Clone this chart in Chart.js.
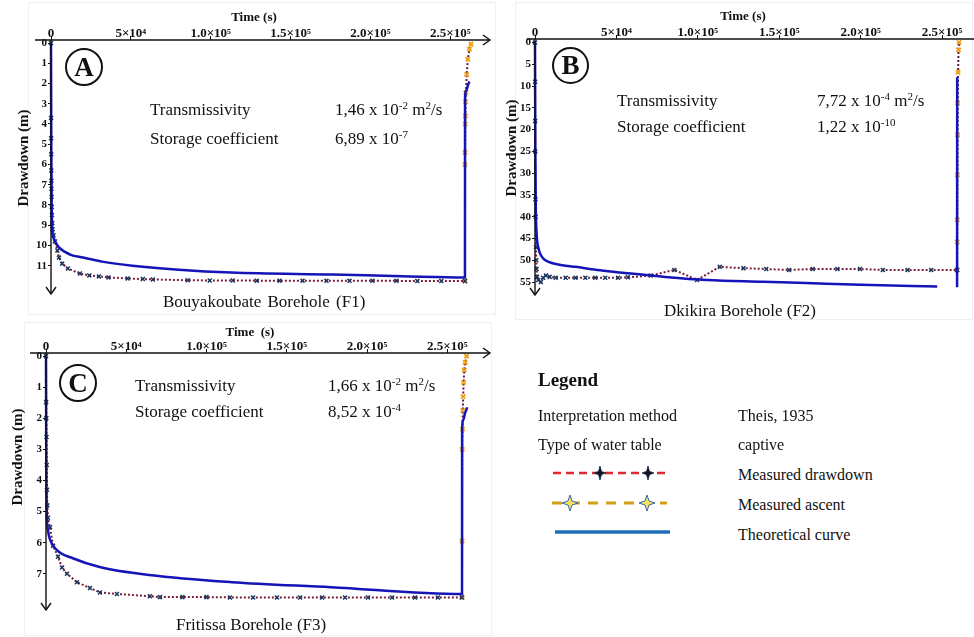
<!DOCTYPE html>
<html>
<head>
<meta charset="utf-8">
<script src="https://cdn.jsdelivr.net/npm/chart.js@4.4.1/dist/chart.umd.min.js"></script>
<style>
  body { margin: 0; background: #fff; }
  #page { position: relative; width: 974px; height: 637px; overflow: hidden; background: #fff;
          font-family: "Liberation Serif", "Times New Roman", serif; color: #111; }
  canvas { position: absolute; }
  .box { position: absolute; border: 1px solid #f0f0f0; }
  .t { position: absolute; white-space: pre; font-size: 17px; line-height: 20px; }
  .lg { position: absolute; white-space: pre; font-size: 16px; line-height: 20px; }
  .ttl { position: absolute; white-space: pre; font-size: 13px; font-weight: bold; line-height: 16px; transform: translateX(-50%); }
  .ytl { position: absolute; white-space: pre; font-size: 15px; font-weight: bold; line-height: 16px;
         transform: translate(-50%, -50%) rotate(-90deg); }
  .circ { position: absolute; border: 2px solid #111; border-radius: 50%; font-weight: bold; font-size: 27px;
          text-align: center; box-sizing: border-box; }
  sup { font-size: 11px; vertical-align: 6px; line-height: 0; }
</style>
</head>
<body>
<div id="page">
  <div class="box" style="left:28px;top:2px;width:466px;height:311px"></div>
  <div class="box" style="left:515px;top:2px;width:456px;height:316px"></div>
  <div class="box" style="left:24px;top:322px;width:466px;height:312px"></div>

  <canvas id="chartA" width="500" height="310" style="left:0;top:0"></canvas>
  <canvas id="chartB" width="464" height="318" style="left:510px;top:0"></canvas>
  <canvas id="chartC" width="500" height="319" style="left:0;top:318px"></canvas>

  <!-- Panel A texts -->
  <div class="ttl" style="left:254px;top:9px">Time (s)</div>
  <div class="ytl" style="left:23px;top:158px">Drawdown (m)</div>
  <div class="circ" style="left:65px;top:48px;width:38px;height:38px;line-height:34px">A</div>
  <div class="t" style="left:150px;top:100px">Transmissivity</div>
  <div class="t" style="left:335px;top:100px">1,46 x 10<sup>-2</sup> m<sup>2</sup>/s</div>
  <div class="t" style="left:150px;top:129px">Storage coefficient</div>
  <div class="t" style="left:335px;top:129px">6,89 x 10<sup>-7</sup></div>
  <div class="t" style="left:163px;top:292px;word-spacing:2px">Bouyakoubate Borehole (F1)</div>

  <!-- Panel B texts -->
  <div class="ttl" style="left:743px;top:8px">Time (s)</div>
  <div class="ytl" style="left:511px;top:148px">Drawdown (m)</div>
  <div class="circ" style="left:552px;top:47px;width:37px;height:37px;line-height:33px">B</div>
  <div class="t" style="left:617px;top:91px">Transmissivity</div>
  <div class="t" style="left:817px;top:91px">7,72 x 10<sup>-4</sup> m<sup>2</sup>/s</div>
  <div class="t" style="left:617px;top:117px">Storage coefficient</div>
  <div class="t" style="left:817px;top:117px">1,22 x 10<sup>-10</sup></div>
  <div class="t" style="left:664px;top:301px">Dkikira Borehole (F2)</div>

  <!-- Panel C texts -->
  <div class="ttl" style="left:250px;top:324px">Time  (s)</div>
  <div class="ytl" style="left:17px;top:457px">Drawdown (m)</div>
  <div class="circ" style="left:59px;top:364px;width:38px;height:38px;line-height:34px">C</div>
  <div class="t" style="left:135px;top:376px">Transmissivity</div>
  <div class="t" style="left:328px;top:376px">1,66 x 10<sup>-2</sup> m<sup>2</sup>/s</div>
  <div class="t" style="left:135px;top:402px">Storage coefficient</div>
  <div class="t" style="left:328px;top:402px">8,52 x 10<sup>-4</sup></div>
  <div class="t" style="left:176px;top:615px">Fritissa Borehole (F3)</div>

  <!-- Legend -->
  <div class="lg" style="left:538px;top:369px;font-size:19px;font-weight:bold;line-height:22px">Legend</div>
  <div class="lg" style="left:538px;top:406px">Interpretation method</div>
  <div class="lg" style="left:738px;top:406px">Theis, 1935</div>
  <div class="lg" style="left:538px;top:435px">Type of water table</div>
  <div class="lg" style="left:738px;top:435px">captive</div>
  <div class="lg" style="left:738px;top:465px">Measured drawdown</div>
  <div class="lg" style="left:738px;top:495px">Measured ascent</div>
  <div class="lg" style="left:738px;top:525px">Theoretical curve</div>
  <svg style="position:absolute;left:540px;top:455px" width="150" height="90">
    <line x1="13" y1="18" x2="127" y2="18" stroke="#e0262e" stroke-width="2.5" stroke-dasharray="8 5"/>
    <path d="M60,11 L61.5,16.5 L66,18 L61.5,19.5 L60,25 L58.5,19.5 L54,18 L58.5,16.5 Z" fill="#111" stroke="#1a2a55" stroke-width="0.8"/>
    <path d="M108,11 L109.5,16.5 L114,18 L109.5,19.5 L108,25 L106.5,19.5 L102,18 L106.5,16.5 Z" fill="#111" stroke="#1a2a55" stroke-width="0.8"/>
    <line x1="12" y1="48" x2="127" y2="48" stroke="#d4a017" stroke-width="3" stroke-dasharray="10 8"/>
    <path d="M30,40 L32,46 L38,48 L32,50 L30,56 L28,50 L22,48 L28,46 Z" fill="#f6e35a" stroke="#3a6ab0" stroke-width="1"/>
    <path d="M107,40 L109,46 L115,48 L109,50 L107,56 L105,50 L99,48 L105,46 Z" fill="#f6e35a" stroke="#3a6ab0" stroke-width="1"/>
    <line x1="15" y1="77" x2="130" y2="77" stroke="#1f6fb8" stroke-width="3.5"/>
  </svg>
</div>

<script>
// x axis (time, s) ticks shared by the three panels
const xTickValues = [0, 50000, 100000, 150000, 200000, 250000];
const xTickLabels = ["0", "5×10⁴", "1.0×10⁵", "1.5×10⁵", "2.0×10⁵", "2.5×10⁵"];

const yTicksA = [0, 1, 2, 3, 4, 5, 6, 7, 8, 9, 10, 11];
const yTicksB = [0, 5, 10, 15, 20, 25, 30, 35, 40, 45, 50, 55];
const yTicksC = [0, 1, 2, 3, 4, 5, 6, 7];

// Panel A - Bouyakoubate (F1)
const tTheoA = [0, 150, 400, 800, 1500, 2500, 5000, 12000, 20000, 32000, 51000, 80000, 113000, 176000, 220000, 259200, 259260, 260000, 261000, 262000];
const sTheoA = [0, 5, 8, 9.2, 9.6, 9.8, 10.1, 10.45, 10.6, 10.8, 11.0, 11.2, 11.34, 11.44, 11.52, 11.58, 2.7, 2.35, 2.1, 1.9];
const tDrawA = [0, 60, 100, 150, 200, 250, 300, 400, 500, 600, 800, 1000, 1600, 2500, 4000, 5000, 7000, 10600, 18100, 24000, 30000, 36000, 48000,
                57500, 63800, 85600, 99400, 113800, 128800, 143100, 157500, 172500, 186900, 201300, 216300, 229400, 244400, 259200];
const sDrawA = [0, 3.7, 4.7, 5.5, 6.3, 6.8, 7.2, 7.6, 8.1, 8.5, 8.9, 9.2, 9.5, 9.8, 10.25, 10.6, 10.9, 11.14, 11.39, 11.48, 11.53, 11.58, 11.63,
                11.66, 11.68, 11.72, 11.73, 11.73, 11.74, 11.74, 11.74, 11.75, 11.75, 11.75, 11.75, 11.76, 11.76, 11.76];
const tAscA = [259200, 259250, 259300, 259400, 259500, 259600, 259800, 260300, 261000, 262000, 263000];
const sAscA = [11.76, 6.0, 5.4, 4.0, 3.6, 2.9, 2.45, 1.55, 0.8, 0.3, 0.05];

// Panel B - Dkikira (F2)
const tTheoB = [0, 200, 500, 1000, 2000, 4250, 8000, 15000, 24900, 40000, 55200, 80000, 105600, 140000, 166300, 200000, 247000, 252000, 259200, 259260];
const sTheoB = [0, 25, 38, 44, 47, 49.2, 50.3, 51.0, 51.5, 52.3, 52.9, 53.8, 54.5, 54.9, 55.2, 55.6, 56.0, null, 56.2, 8];
const tDrawB = [0, 60, 120, 200, 300, 400, 600, 800, 1000, 1200, 2000, 3600, 5000, 6700, 9000, 12700, 18800, 24900, 30900, 37000, 43100,
                51000, 57000, 71000, 85600, 99500, 113500, 128000, 142000, 156000, 170500, 185700, 199600, 213600, 228800, 243300, 259200];
const sDrawB = [0, 9, 18, 25, 36, 40, 47, 50, 52, 53.8, 54.5, 55, 54, 53.5, 53.8, 54, 54, 54, 54, 54, 54,
                54, 53.9, 53.5, 52.2, 54.5, 51.5, 51.8, 52, 52.2, 52, 52, 52, 52.2, 52.2, 52.2, 52.2];
const tAscB = [259200, 259260, 259320, 259400, 259500, 259600, 259800, 260100, 260400];
const sAscB = [52.2, 45.8, 40.7, 30.4, 21.2, 13.9, 6.8, 1.7, 0];

// Panel C - Fritissa (F3)
const tTheoC = [0, 100, 300, 600, 1200, 2500, 6800, 16700, 33400, 64400, 115700, 177600, 259200, 259260, 260000, 261000, 262500];
const sTheoC = [0, 2.5, 4.3, 5.27, 5.6, 5.9, 6.24, 6.5, 6.78, 7.04, 7.27, 7.43, 7.65, 2.35, 2.05, 1.85, 1.65];
const tDrawC = [0, 100, 200, 300, 450, 600, 800, 1200, 2500, 4400, 7500, 10000, 13100, 19300, 27400, 33600, 44200, 64800, 71000,
                85000, 100000, 114600, 129000, 143900, 158300, 172000, 186300, 200600, 215600, 229900, 244200, 259200];
const sDrawC = [0, 1.48, 2.0, 2.6, 3.5, 4.3, 4.8, 5.2, 5.5, 6.1, 6.45, 6.8, 7.0, 7.27, 7.46, 7.6, 7.65, 7.72, 7.75,
                7.75, 7.75, 7.76, 7.76, 7.76, 7.76, 7.76, 7.76, 7.76, 7.76, 7.76, 7.76, 7.76];
const tAscC = [259200, 259250, 259350, 259500, 259700, 259900, 260200, 260600, 261200, 262000];
const sAscC = [7.76, 5.95, 3.0, 2.35, 1.75, 1.3, 0.85, 0.45, 0.2, 0.0];

const pts = (t, s) => t.map((v, i) => ({ x: v, y: s[i] }));

// draws the axis lines with open arrow heads
const axisArrows = {
  id: "axisArrows",
  afterDraw(chart, args, o) {
    const { ctx, chartArea: a } = chart;
    ctx.save();
    ctx.strokeStyle = "#111";
    ctx.lineWidth = 1.4;
    ctx.beginPath();
    ctx.moveTo(o.xStart, a.top);
    ctx.lineTo(o.xEnd, a.top);
    ctx.moveTo(a.left, a.top);
    ctx.lineTo(a.left, o.yEnd);
    ctx.stroke();
    ctx.beginPath();
    if (o.xArrow) {
      ctx.moveTo(o.xEnd - 7, a.top - 5);
      ctx.lineTo(o.xEnd, a.top);
      ctx.lineTo(o.xEnd - 7, a.top + 5);
    }
    ctx.moveTo(a.left - 5, o.yEnd - 7);
    ctx.lineTo(a.left, o.yEnd);
    ctx.lineTo(a.left + 5, o.yEnd - 7);
    ctx.stroke();
    ctx.restore();
  }
};

const tickFont = { family: "'Liberation Serif', serif", size: 11, weight: "bold" };

function makePanel(id, p) {
  return new Chart(document.getElementById(id), {
    type: "line",
    data: {
      datasets: [
        { label: "Theoretical curve", data: pts(p.tTheo, p.sTheo), borderColor: "#1414b8", borderWidth: 2.5,
          pointRadius: 0, cubicInterpolationMode: "monotone", spanGaps: false, clip: false },
        { label: "Measured drawdown", data: pts(p.tDraw, p.sDraw), borderColor: "#7b1c3c", borderWidth: 2,
          borderDash: [2, 2], pointStyle: "crossRot", pointRadius: 2.8, pointBorderColor: "#17375e",
          pointBorderWidth: 1.5, tension: 0, clip: false },
        { label: "Measured ascent", data: pts(p.tAsc, p.sAsc), borderColor: "#5b1d4f", borderWidth: 2,
          borderDash: [2, 2], pointStyle: "crossRot", pointRadius: 3, pointBorderColor: "#f0a21c",
          pointBorderWidth: 2, tension: 0, clip: false }
      ]
    },
    options: {
      responsive: false,
      animation: false,
      layout: { padding: p.pad },
      plugins: { legend: { display: false }, tooltip: { enabled: false }, axisArrows: p.arrows },
      scales: {
        x: {
          type: "linear", position: "top", min: 0, max: p.xMax,
          afterBuildTicks: s => { s.ticks = xTickValues.map(v => ({ value: v })); },
          afterFit: s => { s.height = p.xH; },
          ticks: { font: { ...tickFont, size: 13 }, color: "#111", padding: -5, maxRotation: 0,
                   callback: v => xTickLabels[xTickValues.indexOf(v)] },
          grid: { drawOnChartArea: false, tickLength: 4, color: "#111" },
          border: { display: false }
        },
        y: {
          type: "linear", reverse: true, min: p.yMin, max: p.yMax,
          afterBuildTicks: s => { s.ticks = p.yTicks.map(v => ({ value: v })); },
          afterFit: s => { s.width = p.yW; },
          ticks: { font: tickFont, color: "#111", padding: 1 },
          grid: { drawOnChartArea: false, tickLength: 3, color: "#111" },
          border: { display: false }
        }
      }
    },
    plugins: [axisArrows]
  });
}

makePanel("chartA", {
  tTheo: tTheoA, sTheo: sTheoA, tDraw: tDrawA, sDraw: sDrawA, tAsc: tAscA, sAsc: sAscA,
  yTicks: yTicksA, yMin: -0.15, yMax: 12.35, xMax: 270500,
  pad: { left: 21, top: 15, right: 17, bottom: 17 }, xH: 25, yW: 30,
  arrows: { xStart: 35, xEnd: 490, yEnd: 294, xArrow: true }
});

makePanel("chartB", {
  tTheo: tTheoB, sTheo: sTheoB, tDraw: tDrawB, sDraw: sDrawB, tAsc: tAscB, sAsc: sAscB,
  yTicks: yTicksB, yMin: -0.8, yMax: 57.5, xMax: 265900,
  pad: { left: 7, top: 14, right: 2, bottom: 25 }, xH: 25, yW: 18,
  arrows: { xStart: 17, xEnd: 464, yEnd: 295, xArrow: false }
});

makePanel("chartC", {
  tTheo: tTheoC, sTheo: sTheoC, tDraw: tDrawC, sDraw: sDrawC, tAsc: tAscC, sAsc: sAscC,
  yTicks: yTicksC, yMin: -0.1, yMax: 8.1, xMax: 271650,
  pad: { left: 18, top: 13, right: 18, bottom: 29 }, xH: 22, yW: 28,
  arrows: { xStart: 30, xEnd: 490, yEnd: 292, xArrow: true }
});
</script>
</body>
</html>
